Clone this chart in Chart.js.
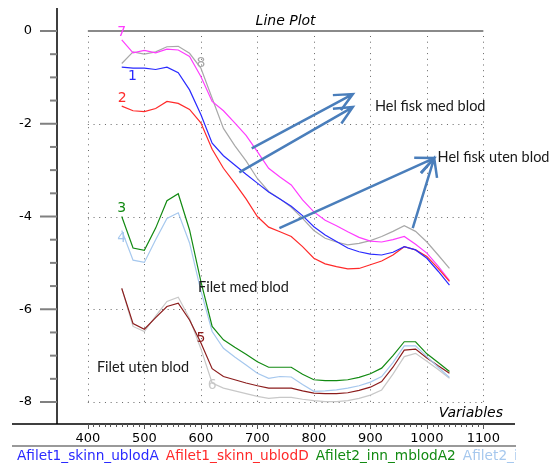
<!DOCTYPE html>
<html>
<head>
<meta charset="utf-8">
<script src="https://cdn.jsdelivr.net/npm/chart.js@4.4.1/dist/chart.umd.min.js"></script>
<style>
  html, body { margin: 0; padding: 0; background: #fff; }
  #chart { display: block; }
</style>
</head>
<body>
<canvas id="chart" width="553" height="463"></canvas>
<script>
const wavelengths = [460, 480, 500, 520, 540, 560, 580, 600, 620, 640, 660, 680, 700, 720, 740,
  760, 780, 800, 820, 840, 860, 880, 900, 920, 940, 960, 980, 1000, 1020, 1040];

const xTicks = [400, 500, 600, 700, 800, 900, 1000, 1100];
const yTicks = [0, -2, -4, -6, -8];

const seriesNames = ["Afilet1_skinn_ublodA", "Afilet1_skinn_ublodD", "Afilet2_inn_mblodA2",
  "Afilet2_inn_mblodD2", "Afilet3_inn_ublodA", "Afilet3_inn_ublodD", "Afisk1_mblodA", "Afisk1_mblodD"];
const seriesTags = ["1", "2", "3", "4", "5", "6", "7", "8"];
const seriesColors = ["#2a2aff", "#ff2a2a", "#128a12", "#a6c8ee", "#8b1c1c", "#c8c8c8", "#ff3cff", "#a8a8a8"];

const s1 = [-0.78, -0.80, -0.80, -0.83, -0.78, -0.90, -1.27, -1.80, -2.42, -2.69, -2.89, -3.09, -3.28, -3.47, -3.62,
  -3.78, -3.98, -4.22, -4.40, -4.54, -4.68, -4.76, -4.81, -4.83, -4.77, -4.65, -4.72, -4.90, -5.18, -5.48];
const s2 = [-1.62, -1.72, -1.74, -1.67, -1.52, -1.56, -1.69, -1.98, -2.55, -2.96, -3.28, -3.62, -4.00, -4.23, -4.33,
  -4.43, -4.65, -4.90, -5.02, -5.08, -5.13, -5.12, -5.04, -4.96, -4.83, -4.65, -4.72, -4.86, -5.12, -5.40];
const s3 = [-4.00, -4.68, -4.73, -4.25, -3.66, -3.51, -4.29, -5.40, -6.37, -6.66, -6.82, -6.97, -7.13, -7.25, -7.25,
  -7.25, -7.40, -7.52, -7.54, -7.54, -7.52, -7.47, -7.39, -7.27, -7.00, -6.70, -6.70, -6.96, -7.15, -7.34];
const s4 = [-4.30, -4.94, -4.99, -4.50, -4.04, -3.92, -4.57, -5.60, -6.48, -6.84, -7.03, -7.20, -7.38, -7.49, -7.45,
  -7.46, -7.62, -7.77, -7.76, -7.74, -7.70, -7.65, -7.57, -7.45, -7.15, -6.79, -6.79, -7.02, -7.25, -7.47];
const s5 = [-5.55, -6.31, -6.43, -6.18, -5.94, -5.87, -6.23, -6.72, -7.28, -7.45, -7.52, -7.59, -7.65, -7.70, -7.70,
  -7.70, -7.76, -7.81, -7.82, -7.82, -7.80, -7.75, -7.68, -7.56, -7.25, -6.88, -6.86, -7.05, -7.22, -7.38];
const s6 = [-5.55, -6.37, -6.48, -6.15, -5.83, -5.74, -6.20, -6.85, -7.59, -7.70, -7.76, -7.82, -7.88, -7.92, -7.90,
  -7.90, -7.94, -7.97, -7.99, -7.99, -7.97, -7.92, -7.85, -7.74, -7.40, -7.02, -6.95, -7.12, -7.30, -7.49];
const s7 = [-0.19, -0.47, -0.42, -0.47, -0.39, -0.41, -0.55, -0.98, -1.52, -1.72, -1.98, -2.25, -2.60, -2.96, -3.15,
  -3.32, -3.64, -3.90, -4.08, -4.20, -4.33, -4.45, -4.53, -4.55, -4.50, -4.43, -4.60, -4.79, -5.07, -5.38];
const s8 = [-0.70, -0.45, -0.50, -0.45, -0.34, -0.33, -0.48, -0.80, -1.45, -2.10, -2.47, -2.80, -3.18, -3.46, -3.62,
  -3.80, -4.04, -4.30, -4.47, -4.55, -4.61, -4.58, -4.52, -4.43, -4.32, -4.20, -4.32, -4.55, -4.83, -5.12];
const allSeries = [s1, s2, s3, s4, s5, s6, s7, s8];

// where the little series numbers sit (data coords)
const tagX = [479, 461, 460, 460, 600, 620, 460, 600];
const tagY = [-0.97, -1.46, -3.82, -4.47, -6.62, -7.65, -0.04, -0.70];

// text notes and arrows (data coords)
const notes = [
  { text: "Hel fisk med blod", x: 908, y: -1.62 },
  { text: "Hel fisk uten blod", x: 1019, y: -2.73 },
  { text: "Filet med blod", x: 595, y: -5.52 },
  { text: "Filet uten blod", x: 416, y: -7.25 }
];
const arrows = [
  [690, -2.53, 869, -1.36],
  [668, -3.05, 869, -1.64],
  [739, -4.25, 1013, -2.74],
  [975, -4.25, 1013, -2.74]
];

Chart.defaults.font.family = "'DejaVu Sans', Verdana, sans-serif";

const datasets = allSeries.map((vals, i) => ({
  label: seriesNames[i],
  data: vals.map((v, j) => ({ x: wavelengths[j], y: v })),
  borderColor: seriesColors[i],
  borderWidth: 1.2,
  pointRadius: 0,
  tension: 0,
  fill: false
}));

const arrowHead = (ctx, x1, y1, x2, y2) => {
  const ang = Math.atan2(y1 - y2, x1 - x2);
  const len = 20;
  ctx.beginPath();
  ctx.moveTo(x1, y1);
  ctx.lineTo(x2, y2);
  ctx.moveTo(x2 + len * Math.cos(ang + 0.44), y2 + len * Math.sin(ang + 0.44));
  ctx.lineTo(x2, y2);
  ctx.lineTo(x2 + len * Math.cos(ang - 0.44), y2 + len * Math.sin(ang - 0.44));
  ctx.stroke();
};

const decor = {
  id: "decor",
  beforeDatasetsDraw(chart) {
    const { ctx, chartArea } = chart;
    const xs = chart.scales.x, ys = chart.scales.y;
    const left = xs.getPixelForValue(400), right = xs.getPixelForValue(1100);
    const top = ys.getPixelForValue(0), bottom = ys.getPixelForValue(-8);
    ctx.save();
    // dotted grid
    ctx.strokeStyle = "#666";
    ctx.lineWidth = 1;
    ctx.setLineDash([1, 4.7]);
    xTicks.forEach(v => {
      const p = Math.round(xs.getPixelForValue(v)) + 0.5;
      ctx.beginPath(); ctx.moveTo(p, top + 5); ctx.lineTo(p, bottom); ctx.stroke();
    });
    yTicks.slice(1).forEach(v => {
      const p = Math.round(ys.getPixelForValue(v)) + 0.5;
      ctx.beginPath(); ctx.moveTo(left, p); ctx.lineTo(right, p); ctx.stroke();
    });
    ctx.setLineDash([]);
    // top frame line under the title
    ctx.strokeStyle = "#8a8a8a";
    ctx.lineWidth = 2;
    ctx.beginPath(); ctx.moveTo(left, top); ctx.lineTo(right, top); ctx.stroke();
    // axes
    ctx.strokeStyle = "#000";
    ctx.lineWidth = 1.5;
    ctx.beginPath();
    ctx.moveTo(chartArea.left, chartArea.top); ctx.lineTo(chartArea.left, chartArea.bottom);
    ctx.moveTo(12, chartArea.bottom); ctx.lineTo(chartArea.right, chartArea.bottom);
    ctx.stroke();
    // y ticks, major and half steps
    ctx.strokeStyle = "#808080";
    ctx.lineWidth = 2;
    for (let v = 0; v >= -8; v -= 0.5) {
      const p = ys.getPixelForValue(v);
      const major = v % 2 === 0;
      ctx.beginPath();
      ctx.moveTo(chartArea.left - (major ? 17 : 7), p);
      ctx.lineTo(chartArea.left, p);
      ctx.stroke();
    }
    // x ticks every 10
    ctx.strokeStyle = "#555";
    ctx.lineWidth = 1;
    for (let v = 400; v <= 1100; v += 10) {
      const p = Math.round(xs.getPixelForValue(v)) + 0.5;
      ctx.beginPath();
      ctx.moveTo(p, chartArea.bottom);
      ctx.lineTo(p, chartArea.bottom + (v % 100 === 0 ? 5 : 3));
      ctx.stroke();
    }
    // title and axis name
    ctx.fillStyle = "#000";
    ctx.font = "italic 14px 'DejaVu Sans'";
    ctx.textBaseline = "middle";
    ctx.textAlign = "center";
    ctx.fillText("Line Plot", (left + right) / 2, 21);
    ctx.textAlign = "right";
    ctx.fillText("Variables", 503, 413);
    ctx.restore();
  },
  afterDatasetsDraw(chart) {
    const { ctx } = chart;
    const xs = chart.scales.x, ys = chart.scales.y;
    ctx.save();
    // series numbers
    ctx.font = "14px 'DejaVu Sans'";
    ctx.textAlign = "center";
    ctx.textBaseline = "middle";
    seriesTags.forEach((t, i) => {
      ctx.fillStyle = seriesColors[i];
      ctx.fillText(t, xs.getPixelForValue(tagX[i]), ys.getPixelForValue(tagY[i]));
    });
    // arrows
    ctx.strokeStyle = "#4a7ebb";
    ctx.lineWidth = 2.5;
    arrows.forEach(a => {
      arrowHead(ctx, xs.getPixelForValue(a[0]), ys.getPixelForValue(a[1]),
        xs.getPixelForValue(a[2]), ys.getPixelForValue(a[3]));
    });
    // notes
    ctx.fillStyle = "#1a1a1a";
    ctx.font = "14.5px Lato";
    ctx.textAlign = "left";
    notes.forEach(n => ctx.fillText(n.text, xs.getPixelForValue(n.x), ys.getPixelForValue(n.y)));
    // legend strip at the bottom, cut off at the axis end
    const stripEnd = chart.chartArea.right + 1;
    ctx.strokeStyle = "#999";
    ctx.lineWidth = 2;
    ctx.beginPath(); ctx.moveTo(12, 446); ctx.lineTo(stripEnd, 446); ctx.stroke();
    ctx.beginPath(); ctx.rect(0, 447, stripEnd, 16); ctx.clip();
    ctx.font = "13.7px 'DejaVu Sans'";
    let lx = 17;
    seriesNames.forEach((name, i) => {
      ctx.fillStyle = seriesColors[i];
      ctx.fillText(name, lx, 456);
      lx += ctx.measureText(name).width + 7;
    });
    ctx.restore();
  }
};

new Chart(document.getElementById("chart"), {
  type: "line",
  data: { datasets },
  options: {
    responsive: false,
    animation: false,
    layout: { padding: { top: 8, right: 38, bottom: 0, left: 0 } },
    plugins: { legend: { display: false }, tooltip: { enabled: false }, title: { display: false } },
    scales: {
      x: {
        type: "linear",
        min: 345.4,
        max: 1156,
        grid: { display: false, drawTicks: false },
        border: { display: false },
        afterBuildTicks: s => { s.ticks = xTicks.map(v => ({ value: v })); },
        afterFit: s => { s.height = 39; },
        ticks: { color: "#000", font: { size: 13 }, padding: 7, maxRotation: 0, callback: v => String(v) }
      },
      y: {
        type: "linear",
        min: -8.474,
        max: 0.496,
        grid: { display: false, drawTicks: true, tickLength: 25 },
        border: { display: false },
        afterBuildTicks: s => { s.ticks = yTicks.map(v => ({ value: v })); },
        afterFit: s => { s.width = 57; },
        ticks: { color: "#000", font: { size: 13 }, padding: 0, callback: v => String(v) }
      }
    }
  },
  plugins: [decor]
});
</script>
</body>
</html>
